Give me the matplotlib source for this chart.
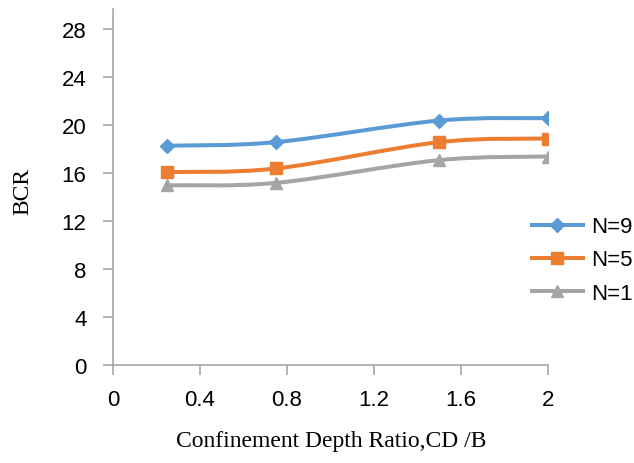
import numpy as np
import matplotlib.pyplot as plt
from matplotlib.path import Path
from matplotlib.patches import PathPatch

depth_ratio = [0.25, 0.75, 1.5, 2.0]
bcr_n9 = [18.3, 18.6, 20.4, 20.6]
bcr_n5 = [16.1, 16.4, 18.6, 18.9]
bcr_n1 = [15.0, 15.2, 17.1, 17.4]

x_ticks = [0, 0.4, 0.8, 1.2, 1.6, 2.0]
x_tick_labels = ["0", "0.4", "0.8", "1.2", "1.6", "2"]
y_ticks = [0, 4, 8, 12, 16, 20, 24, 28]


def smooth_path(xs, ys, tension=1 / 6):
    # Excel-style smoothed line: cubic bezier segments through the points
    pts = np.column_stack([xs, ys])
    verts = [pts[0]]
    codes = [Path.MOVETO]
    n = len(pts)
    for i in range(n - 1):
        p0 = pts[i - 1] if i > 0 else pts[i]
        p1 = pts[i]
        p2 = pts[i + 1]
        p3 = pts[i + 2] if i + 2 < n else pts[i + 1]
        c1 = p1 + (p2 - p0) * tension
        c2 = p2 - (p3 - p1) * tension
        verts += [c1, c2, p2]
        codes += [Path.CURVE4] * 3
    return Path(verts, codes)


fig = plt.figure(figsize=(6.34, 4.64), dpi=100)
ax = fig.add_axes([0.1782, 0.2112, 0.6861, 0.767])

series = [
    ("N=9", bcr_n9, "#5B9BD5", "D", 7),
    ("N=5", bcr_n5, "#ED7D31", "s", 9),
    ("N=1", bcr_n1, "#A5A5A5", "^", 8),
]

for label, vals, color, marker, ms in series:
    patch = PathPatch(smooth_path(depth_ratio, vals), facecolor="none",
                      edgecolor=color, linewidth=2.9, zorder=2)
    ax.add_patch(patch)
    ax.plot(depth_ratio, vals, linestyle="none", color=color,
            marker=marker, markersize=ms, markeredgecolor=color,
            label=label, zorder=3)

ax.set_xlim(0, 2)
ax.set_ylim(0, 29.7)
ax.set_xticks(x_ticks)
ax.set_xticklabels(x_tick_labels)
ax.set_yticks(y_ticks)

for side in ["top", "right"]:
    ax.spines[side].set_visible(False)
for side in ["left", "bottom"]:
    ax.spines[side].set_color("#a6a6a6")
    ax.spines[side].set_linewidth(1.2)

ax.tick_params(axis="both", direction="out", length=7, width=1.2,
               color="#a6a6a6", labelsize=16)
ax.tick_params(axis="x", pad=10)
ax.tick_params(axis="y", pad=12)
for lbl in ax.get_xticklabels() + ax.get_yticklabels():
    lbl.set_fontfamily("Liberation Sans")

fig.text(0.036, 0.588, "BCR", rotation=90, ha="center", va="center",
         fontsize=17, family="Liberation Serif")
fig.text(0.522, 0.048, "Confinement Depth Ratio,CD /B", ha="center",
         va="center", fontsize=17, family="Liberation Serif")

leg_lines = [plt.Line2D([], [], color=c, linewidth=2.9, marker=m, markersize=ms,
                        markeredgecolor=c) for _, _, c, m, ms in series]
fig.legend(leg_lines, [s[0] for s in series], loc="center left",
           bbox_to_anchor=(0.839, 0.4375), frameon=False, handlelength=2.3,
           labelspacing=0.55, handletextpad=0.35, borderpad=0,
           borderaxespad=0, prop={"family": "Liberation Sans", "size": 16})

plt.savefig("out.png", dpi=100)
